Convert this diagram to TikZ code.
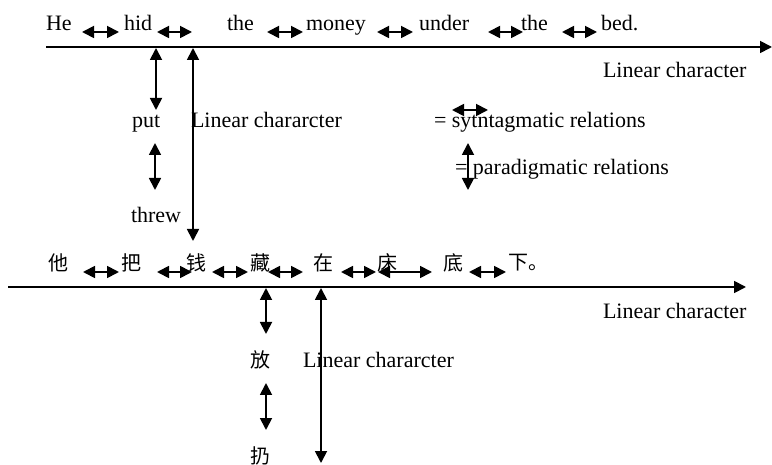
\documentclass[tikz,border=0pt]{standalone}
\usepackage{fontspec}
\setmainfont{Liberation Serif}
\newfontfamily\cjk{Noto Sans CJK SC}
\usetikzlibrary{arrows.meta}
\begin{document}
\begin{tikzpicture}[x=1pt,y=-1pt,
  every node/.style={inner sep=0pt,outer sep=0pt,font=\fontsize{22}{24}\selectfont},
  w/.style={anchor=base west},
  zh/.style={anchor=west,font=\fontsize{20}{22}\selectfont\cjk},
  dbl/.style={line width=1.8pt,{Triangle[length=12pt,width=12pt]}-{Triangle[length=12pt,width=12pt]}},
  axis/.style={line width=1.8pt,-{Triangle[length=12pt,width=12pt]}}]
\useasboundingbox (0,0) rectangle (772,465);
% top sentence
\node[w] (he) at (46,31) {He};
\node[w] (hid) at (124,31) {hid};
\node[w] (the1) at (227,31) {the};
\node[w] (money) at (306,31) {money};
\node[w] (under) at (419,31) {under};
\node[w] (the2) at (521,31) {the};
\node[w] (bed) at (601,31) {bed.};
\foreach \a/\b in {82/119,157/192,267/303,377/413,488/523,562/597}
  \draw[dbl] (\a,32) -- (\b,32);
\coordinate (t0) at (46,47);
\coordinate (t1) at (772,47);
\draw[axis] (t0) -- (t1);
\node[w] (lc1) at (603,78) {Linear character};
\node[w] (put) at (132,128) {put};
\node[w] (threw) at (131,223) {threw};
\node[w] (lcc1) at (191,128) {Linear chararcter};
\coordinate (a1) at (156,48); \coordinate (a2) at (156,110);
\draw[dbl] (a1) -- (a2);
\coordinate (b1) at (155,143); \coordinate (b2) at (155,190);
\draw[dbl] (b1) -- (b2);
\coordinate (c1) at (193,48); \coordinate (c2) at (193,241);
\draw[dbl] (c1) -- (c2);
% legend
\node[w] (syn) at (434,128) {= sytntagmatic relations};
\node[w] (par) at (455,175) {= paradigmatic relations};
\coordinate (l1) at (452,110); \coordinate (l2) at (488,110);
\draw[dbl] (l1) -- (l2);
\coordinate (m1) at (468,143); \coordinate (m2) at (468,190);
\draw[dbl] (m1) -- (m2);
% Chinese sentence
\node[zh] (z1) at (48,263) {他};
\node[zh] (z2) at (121,263) {把};
\node[zh] (z3) at (186,263) {钱};
\node[zh] (z4) at (250,263) {藏};
\node[zh] (z5) at (313,263) {在};
\node[zh] (z6) at (377,263) {床};
\node[zh] (z7) at (443,263) {底};
\node[zh] (z8) at (508,263) {下。};
\foreach \a/\b in {83/119,157/192,212/248,268/303,341/376,378/432,469/506}
  \draw[dbl] (\a,272) -- (\b,272);
\coordinate (s0) at (8,287);
\coordinate (s1) at (746,287);
\draw[axis] (s0) -- (s1);
\node[w] (lc2) at (603,319) {Linear character};
\node[zh] (fang) at (250,360) {放};
\node[zh] (reng) at (250,456) {扔};
\node[w] (lcc2) at (303,367) {Linear chararcter};
\coordinate (d1) at (266,288); \coordinate (d2) at (266,334);
\draw[dbl] (d1) -- (d2);
\coordinate (e1) at (266,383); \coordinate (e2) at (266,430);
\draw[dbl] (e1) -- (e2);
\coordinate (f1) at (321,288); \coordinate (f2) at (321,463);
\draw[dbl] (f1) -- (f2);
\end{tikzpicture}
\end{document}
